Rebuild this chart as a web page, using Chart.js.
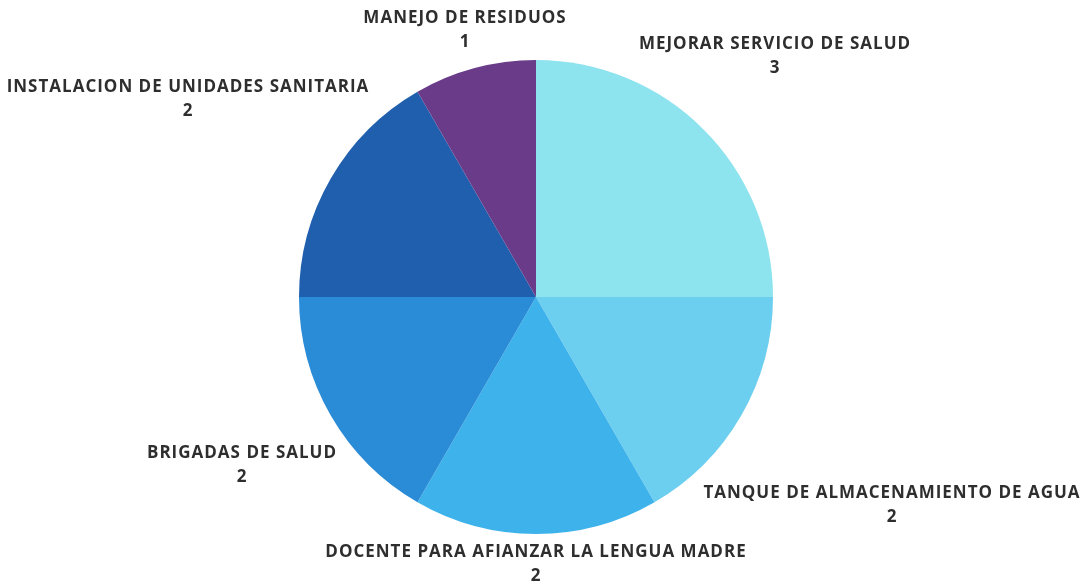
<!DOCTYPE html>
<html>
<head>
<meta charset="utf-8">
<script src="https://cdn.jsdelivr.net/npm/chart.js"></script>
<style>
  html, body { margin: 0; padding: 0; background: #fff; }
  #wrap { width: 1086px; height: 581px; }
</style>
</head>
<body>
<div id="wrap"><canvas id="grafico" width="1086" height="581"></canvas></div>
<script>
// Daten
const kategorien = [
  'MEJORAR SERVICIO DE SALUD',
  'TANQUE DE ALMACENAMIENTO DE AGUA',
  'DOCENTE PARA AFIANZAR LA LENGUA MADRE',
  'BRIGADAS DE SALUD',
  'INSTALACION DE UNIDADES SANITARIA',
  'MANEJO DE RESIDUOS'
];
const werte = [3, 2, 2, 2, 2, 1];

const farben = ['#8de3ee', '#6dcfef', '#3eb2eb', '#2a8bd6', '#1f5fae', '#6a3b89'];

// Position der Beschriftung relativ zur Mitte (px)
const labelOffsets = [
  [239, -253],
  [356, 196],
  [0, 255],
  [-294, 156],
  [-348, -210],
  [-71, -279]
];

const beschriftung = {
  id: 'beschriftung',
  afterDraw(chart) {
    const ctx = chart.ctx;
    const meta = chart.getDatasetMeta(0);
    ctx.save();
    ctx.fillStyle = '#2e2e2e';
    ctx.textAlign = 'center';
    ctx.textBaseline = 'middle';
    ctx.font = 'bold 17px "Open Sans", sans-serif';
    ctx.letterSpacing = '1px';
    meta.data.forEach((arc, i) => {
      const x = arc.x + labelOffsets[i][0];
      const y = arc.y + labelOffsets[i][1];
      ctx.fillText(chart.data.labels[i], x, y);
      ctx.fillText(String(chart.data.datasets[0].data[i]), x, y + 24);
    });
    ctx.restore();
  }
};

new Chart(document.getElementById('grafico').getContext('2d'), {
  type: 'pie',
  data: {
    labels: kategorien,
    datasets: [{
      data: werte,
      backgroundColor: farben,
      borderWidth: 0
    }]
  },
  options: {
    responsive: false,
    animation: false,
    layout: { padding: { top: 60, bottom: 47, left: 0, right: 14 } },
    plugins: {
      legend: { display: false },
      tooltip: { enabled: false }
    }
  },
  plugins: [beschriftung]
});
</script>
</body>
</html>
